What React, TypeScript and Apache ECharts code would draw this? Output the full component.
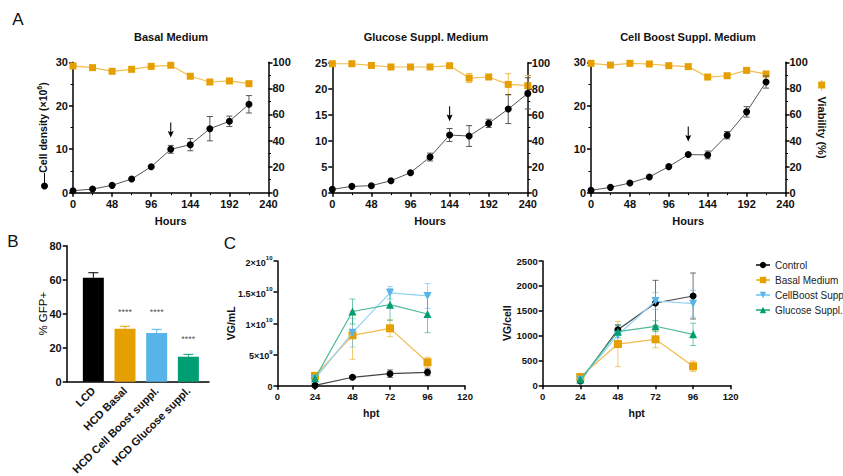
import React, { useEffect, useRef } from 'react';
import * as echarts from 'echarts';

const FONT = 'Arial, "Liberation Sans", Helvetica, sans-serif';

// ---------- Panel A data ----------
const hoursBasal = [0, 24, 48, 72, 96, 120, 144, 168, 192, 216];
const basalDensity = [0.46, 0.84, 1.69, 3.15, 5.99, 9.98, 11.05, 14.73, 16.42, 20.34];
const basalDensityErr = [0, 0, 0, 0, 0.2, 0.9, 1.4, 2.8, 1.2, 2.0];
const basalViability = [97.2, 95.9, 93.1, 94.6, 96.9, 97.7, 89.3, 84.9, 85.7, 83.6];
const basalViabilityErr = [0, 0, 0, 0, 0, 0, 0, 1.5, 1.0, 0];

const hoursGlucose = [0, 24, 48, 72, 96, 120, 144, 168, 192, 216, 240];
const glucoseDensity = [0.64, 1.22, 1.35, 2.31, 3.85, 6.86, 11.09, 10.9, 13.33, 16.09, 19.1];
const glucoseDensityErr = [0, 0, 0, 0, 0, 0.75, 1.25, 2.0, 0.8, 2.8, 3.0];
const glucoseViability = [99.2, 99.2, 97.9, 96.7, 96.7, 96.7, 97.7, 88.2, 89.0, 83.3, 82.3];
const glucoseViabilityErr = [0, 0, 0, 0, 0, 0, 0, 3.5, 0, 8.3, 8.0];

const hoursBoost = [0, 24, 48, 72, 96, 120, 144, 168, 192, 216];
const boostDensity = [0.54, 1.23, 2.23, 3.62, 6.0, 8.77, 8.69, 13.23, 18.6, 25.46];
const boostDensityErr = [0, 0, 0, 0, 0, 0, 0.9, 0.85, 1.2, 1.4];
const boostViability = [99.2, 97.9, 99.2, 98.7, 97.4, 96.7, 88.7, 89.7, 93.8, 91.0];
const boostViabilityErr = [0, 0, 0, 0, 0, 0, 0, 0, 0, 2.0];

const panelTitles = ['Basal Medium', 'Glucose Suppl. Medium', 'Cell Boost Suppl. Medium'];
const feedHour = [120, 144, 120];
const feedArrowLevel = [14.4, 15.2, 13.5];

// ---------- Panel B data ----------
const gfpCategories = ['LCD', 'HCD Basal', 'HCD Cell Boost suppl.', 'HCD Glucose suppl.'];
const gfpMean = [61.2, 31.2, 28.6, 14.7];
const gfpErr = [2.9, 1.4, 2.2, 1.4];
const gfpSignif = ['', '****', '****', '****'];
const gfpSignifLevel = [null, 41, 41, 25];

// ---------- Panel C data ----------
const hpt = [24, 48, 72, 96];
const cSeriesNames = ['Control', 'Basal Medium', 'CellBoost Suppl.', 'Glucose Suppl.'];
const vgmlControl = [0.05e9, 1.35e9, 1.93e9, 2.15e9];
const vgmlControlErr = [0.1e9, 0.2e9, 0.6e9, 0.55e9];
const vgmlBasal = [1.56e9, 8.08e9, 9.2e9, 3.75e9];
const vgmlBasalErr = [0.6e9, 3.85e9, 1.34e9, 0.8e9];
const vgmlBoost = [1.1e9, 8.5e9, 14.9e9, 14.4e9];
const vgmlBoostErr = [0.3e9, 2.3e9, 1.0e9, 2.0e9];
const vgmlGlucose = [1.18e9, 11.9e9, 13.0e9, 11.5e9];
const vgmlGlucoseErr = [0.3e9, 2.0e9, 2.5e9, 3.0e9];
const vgmlTickMantissa = ['0', '5', '1', '1.5', '2'];
const vgmlTickExp = ['', '9', '10', '10', '10'];

const vgcControl = [86, 1118, 1655, 1796];
const vgcControlErr = [10, 100, 456, 463];
const vgcBasal = [167, 830, 925, 382];
const vgcBasalErr = [40, 455, 170, 105];
const vgcBoost = [110, 1011, 1695, 1641];
const vgcBoostErr = [20, 200, 170, 270];
const vgcGlucose = [115, 1078, 1187, 1025];
const vgcGlucoseErr = [20, 120, 110, 225];

// ---------- styling ----------
const C_BLACK = '#000000';
const C_ORANGE = '#E69F00';
const C_BLUE = '#56B4E9';
const C_GREEN = '#009E73';
const cMarker = [C_BLACK, C_ORANGE, C_BLUE, C_GREEN];
const cLine = ['#444444', '#F2BC4E', '#94D2F4', '#4DBB96'];
const cErr = ['rgba(0,0,0,0.55)', 'rgba(230,159,0,0.55)', 'rgba(86,180,233,0.55)', 'rgba(0,158,115,0.55)'];
const cSymbols = ['circle', 'rect', 'path://M0,0 L10,0 L5,9 Z', 'triangle'];
const cSizes = [7, 8, 8, 8];

const axisLineStyle = { color: '#000', width: 1.5 };
const boldLabel = (size: number) => ({ fontSize: size, fontWeight: 'bold', color: '#111', fontFamily: FONT });

function errorBars(xAxisIndex: number, yAxisIndex: number, data: number[][], color: string, cap: number, z = 3) {
  return {
    type: 'custom',
    xAxisIndex,
    yAxisIndex,
    z,
    silent: true,
    data,
    encode: { x: 0, y: [1, 2] },
    renderItem: (params: any, api: any) => {
      const x = api.value(0);
      const a = api.coord([x, api.value(1)]);
      const b = api.coord([x, api.value(2)]);
      const st = { stroke: color, lineWidth: 1 };
      return {
        type: 'group',
        children: [
          { type: 'line', shape: { x1: a[0], y1: a[1], x2: b[0], y2: b[1] }, style: st },
          { type: 'line', shape: { x1: b[0] - cap, y1: b[1], x2: b[0] + cap, y2: b[1] }, style: st },
          { type: 'line', shape: { x1: a[0] - cap, y1: a[1], x2: a[0] + cap, y2: a[1] }, style: st },
        ],
      };
    },
  };
}

function errData(xs: number[], ys: number[], es: number[]) {
  const out: number[][] = [];
  xs.forEach((x, i) => {
    if (es[i] > 0) out.push([x, ys[i] - es[i], ys[i] + es[i]]);
  });
  return out;
}

function hoursAxis(gridIndex: number) {
  return {
    type: 'value', gridIndex, min: 0, max: 240, interval: 48,
    axisLine: { show: true, onZero: false, lineStyle: axisLineStyle },
    axisTick: { show: true, length: 4, lineStyle: axisLineStyle },
    minorTick: { show: true, splitNumber: 2, length: 2.5, lineStyle: { color: '#000', width: 1 } },
    axisLabel: { ...boldLabel(11), margin: 6 },
    splitLine: { show: false }, minorSplitLine: { show: false },
    name: 'Hours', nameLocation: 'middle', nameGap: 23,
    nameTextStyle: boldLabel(11),
  };
}

function densityAxis(gridIndex: number, max: number, interval: number, minor: boolean, extra: any = {}) {
  return {
    type: 'value', gridIndex, min: 0, max, interval, position: 'left',
    axisLine: { show: true, onZero: false, lineStyle: axisLineStyle },
    axisTick: { show: true, length: 4, lineStyle: axisLineStyle },
    minorTick: { show: minor, splitNumber: 2, length: 2.5, lineStyle: { color: '#000', width: 1 } },
    axisLabel: { ...boldLabel(11), margin: 5 },
    splitLine: { show: false }, minorSplitLine: { show: false },
    ...extra,
  };
}

function viabilityAxis(gridIndex: number, extra: any = {}) {
  return {
    type: 'value', gridIndex, min: 0, max: 100, interval: 20, position: 'right',
    axisLine: { show: true, onZero: false, lineStyle: axisLineStyle },
    axisTick: { show: true, length: 4, lineStyle: axisLineStyle },
    minorTick: { show: true, splitNumber: 2, length: 2.5, lineStyle: { color: '#000', width: 1 } },
    axisLabel: { ...boldLabel(11), margin: 4 },
    splitLine: { show: false }, minorSplitLine: { show: false },
    ...extra,
  };
}

function panelASeries(xi: number, yl: number, yr: number, hours: number[], dens: number[], densErr: number[], viab: number[], viabErr: number[], k: number) {
  return [
    errorBars(xi, yr, errData(hours, viab, viabErr), '#F2BC4E', 3, 3),
    {
      type: 'line', xAxisIndex: xi, yAxisIndex: yr, z: 4,
      data: hours.map((h, i) => [h, viab[i]]),
      symbol: 'rect', symbolSize: 7,
      itemStyle: { color: C_ORANGE },
      lineStyle: { color: '#F2BC4E', width: 1.2 },
    },
    errorBars(xi, yl, errData(hours, dens, densErr), '#555', 3, 5),
    {
      type: 'line', xAxisIndex: xi, yAxisIndex: yl, z: 6,
      data: hours.map((h, i) => [h, dens[i]]),
      symbol: 'circle', symbolSize: 7,
      itemStyle: { color: C_BLACK },
      lineStyle: { color: '#555', width: 1 },
      markPoint: {
        silent: true,
        symbol: 'path://M4.3,0 L5.7,0 L5.7,10 L9,9 L5,16 L1,9 L4.3,10 Z',
        symbolSize: [6, 15],
        itemStyle: { color: '#000' },
        label: { show: false },
        data: [{ coord: [feedHour[k], feedArrowLevel[k]] }],
      },
    },
  ];
}

function cXAxis(gridIndex: number) {
  return {
    type: 'value', gridIndex, min: 0, max: 120, interval: 24,
    axisLine: { show: true, onZero: false, lineStyle: axisLineStyle },
    axisTick: { show: true, length: 4, lineStyle: axisLineStyle },
    axisLabel: { ...boldLabel(9.5), margin: 6 },
    splitLine: { show: false },
    name: 'hpt', nameLocation: 'middle', nameGap: 22,
    nameTextStyle: boldLabel(10.5),
  };
}

function cSeries(xi: number, yi: number, sets: number[][], errs: number[][]) {
  const out: any[] = [];
  sets.forEach((vals, s) => {
    out.push(errorBars(xi, yi, errData(hpt, vals, errs[s]), cErr[s], 3, 3 + s));
  });
  sets.forEach((vals, s) => {
    out.push({
      type: 'line', name: cSeriesNames[s], xAxisIndex: xi, yAxisIndex: yi, z: 8 + s,
      data: hpt.map((h, i) => [h, vals[i]]),
      symbol: cSymbols[s], symbolSize: cSizes[s],
      itemStyle: { color: cMarker[s] },
      lineStyle: { color: cLine[s], width: 1.2 },
    });
  });
  return out;
}

function buildOption() {
  const grids = [
    { left: 73, top: 62.3, width: 195.5, height: 130.4 },
    { left: 332.3, top: 62.7, width: 195.5, height: 130 },
    { left: 591, top: 62.3, width: 194.5, height: 130.4 },
    { left: 66.7, top: 245.7, width: 142.3, height: 136 },
    { left: 77.5, top: 245.7, width: 126.7, height: 136 },
    { left: 277.5, top: 261, width: 187.5, height: 124.7 },
    { left: 542.7, top: 261, width: 188, height: 124.3 },
  ].map((g) => ({ ...g, outerBoundsMode: 'none', containLabel: false }));

  const xAxis: any[] = [
    hoursAxis(0),
    hoursAxis(1),
    hoursAxis(2),
    {
      type: 'value', gridIndex: 3, min: 0, max: 1,
      axisLine: { show: true, onZero: false, lineStyle: axisLineStyle },
      axisTick: { show: false }, axisLabel: { show: false }, splitLine: { show: false },
    },
    {
      type: 'category', gridIndex: 4, data: gfpCategories,
      axisLine: { show: false }, axisTick: { show: false },
      axisLabel: { ...boldLabel(11), rotate: 45, interval: 0, margin: 7 },
    },
    cXAxis(5),
    cXAxis(6),
  ];

  const yAxis: any[] = [
    densityAxis(0, 30, 10, true, {
      name: 'Cell density (×10{s|6})', nameLocation: 'middle', nameRotate: 90, nameGap: 23, nameMoveOverlap: false,
      nameTextStyle: { ...boldLabel(10.5), lineHeight: 14, rich: { s: { fontSize: 7, fontWeight: 'bold', fontFamily: FONT, color: '#111', verticalAlign: 'top', lineHeight: 14 } } },
    }),
    viabilityAxis(0),
    densityAxis(1, 25, 5, false),
    viabilityAxis(1),
    densityAxis(2, 30, 10, true),
    viabilityAxis(2, {
      name: 'Viability (%)', nameLocation: 'middle', nameRotate: -90, nameGap: 31, nameMoveOverlap: false,
      nameTextStyle: boldLabel(11),
    }),
    {
      type: 'value', gridIndex: 3, min: 0, max: 80, interval: 20,
      axisLine: { show: true, onZero: false, lineStyle: axisLineStyle },
      axisTick: { show: true, length: 4, lineStyle: axisLineStyle },
      axisLabel: { ...boldLabel(11), margin: 5 },
      splitLine: { show: false },
      name: '% GFP+', nameLocation: 'middle', nameRotate: 90, nameGap: 18, nameMoveOverlap: false,
      nameTextStyle: { fontSize: 11.5, color: '#000', fontFamily: FONT },
    },
    { type: 'value', gridIndex: 4, min: 0, max: 80, show: false },
    {
      type: 'value', gridIndex: 5, min: 0, max: 2e10, interval: 5e9,
      axisLine: { show: true, onZero: false, lineStyle: axisLineStyle },
      axisTick: { show: true, length: 4, lineStyle: axisLineStyle },
      axisLabel: {
        margin: 5,
        formatter: (v: number) => {
          const i = Math.round(v / 5e9);
          return vgmlTickExp[i] ? `{b|${vgmlTickMantissa[i]}×10}{s|${vgmlTickExp[i]}}` : `{b|${vgmlTickMantissa[i]}}`;
        },
        rich: {
          b: { ...boldLabel(9), lineHeight: 12, verticalAlign: 'bottom' },
          s: { ...boldLabel(6), lineHeight: 12, verticalAlign: 'top' },
        },
      },
      splitLine: { show: false },
      name: 'VG/mL', nameLocation: 'middle', nameRotate: 90, nameGap: 41, nameMoveOverlap: false,
      nameTextStyle: boldLabel(10.5),
    },
    {
      type: 'value', gridIndex: 6, min: 0, max: 2500, interval: 500,
      axisLine: { show: true, onZero: false, lineStyle: axisLineStyle },
      axisTick: { show: true, length: 4, lineStyle: axisLineStyle },
      axisLabel: { ...boldLabel(9.5), margin: 5, formatter: (v: number) => String(v) },
      splitLine: { show: false },
      name: 'VG/cell', nameLocation: 'middle', nameRotate: 90, nameGap: 30, nameMoveOverlap: false,
      nameTextStyle: boldLabel(10.5),
    },
  ];

  const series: any[] = [
    ...panelASeries(0, 0, 1, hoursBasal, basalDensity, basalDensityErr, basalViability, basalViabilityErr, 0),
    ...panelASeries(1, 2, 3, hoursGlucose, glucoseDensity, glucoseDensityErr, glucoseViability, glucoseViabilityErr, 1),
    ...panelASeries(2, 4, 5, hoursBoost, boostDensity, boostDensityErr, boostViability, boostViabilityErr, 2),
    {
      type: 'bar', xAxisIndex: 4, yAxisIndex: 7, barWidth: 21, z: 2,
      data: gfpMean.map((v, i) => ({ value: v, itemStyle: { color: cMarker[i] } })),
    },
    {
      type: 'custom', xAxisIndex: 4, yAxisIndex: 7, z: 3, silent: true,
      data: gfpMean.map((v, i) => [i, v, v + gfpErr[i]]),
      encode: { x: 0, y: [1, 2] },
      renderItem: (params: any, api: any) => {
        const i = api.value(0);
        const a = api.coord([i, api.value(1)]);
        const b = api.coord([i, api.value(2)]);
        const st = { stroke: cMarker[params.dataIndex], lineWidth: 1 };
        return {
          type: 'group', children: [
            { type: 'line', shape: { x1: a[0], y1: a[1], x2: b[0], y2: b[1] }, style: st },
            { type: 'line', shape: { x1: b[0] - 5, y1: b[1], x2: b[0] + 5, y2: b[1] }, style: st },
          ],
        };
      },
    },
    {
      type: 'scatter', xAxisIndex: 4, yAxisIndex: 7, z: 4, silent: true,
      symbolSize: 2, itemStyle: { color: 'rgba(0,0,0,0)' },
      data: gfpSignifLevel.map((v, i) => [i, v == null ? 0 : v]).filter((d, i) => gfpSignifLevel[i] != null),
      label: {
        show: true, position: 'inside', fontSize: 9, color: '#222', fontFamily: FONT,
        formatter: (p: any) => gfpSignif[p.value[0]],
      },
    },
    ...cSeries(5, 8, [vgmlControl, vgmlBasal, vgmlBoost, vgmlGlucose], [vgmlControlErr, vgmlBasalErr, vgmlBoostErr, vgmlGlucoseErr]),
    ...cSeries(6, 9, [vgcControl, vgcBasal, vgcBoost, vgcGlucose], [vgcControlErr, vgcBasalErr, vgcBoostErr, vgcGlucoseErr]),
  ];

  const titleCenters = [171, 426, 688];
  const title = panelTitles.map((t, i) => ({
    text: t, left: titleCenters[i], top: 31, textAlign: 'center', padding: 0,
    textStyle: { fontSize: 11, fontWeight: 'bold', color: '#111', fontFamily: FONT },
  }));

  const letter = (t: string, x: number, y: number) => ({
    type: 'text', x, y, style: { text: t, fontSize: 17, fill: '#111', fontFamily: FONT, textAlign: 'center', textVerticalAlign: 'middle' },
  });

  return {
    animation: false,
    backgroundColor: '#ffffff',
    title,
    grid: grids,
    xAxis,
    yAxis,
    series,
    legend: {
      data: cSeriesNames,
      orient: 'vertical', left: 750, top: 255,
      itemWidth: 14, itemHeight: 8, itemGap: 5,
      textStyle: { fontSize: 10, color: '#222', fontFamily: FONT },
      selectedMode: false,
    },
    graphic: [
      letter('A', 18, 19),
      letter('B', 13, 241),
      letter('C', 230, 243),
      { type: 'line', shape: { x1: 44.5, y1: 173, x2: 44.5, y2: 186 }, style: { stroke: '#000', lineWidth: 1 } },
      { type: 'circle', shape: { cx: 44.5, cy: 186, r: 3.5 }, style: { fill: '#000' } },
      { type: 'line', shape: { x1: 821.7, y1: 80, x2: 821.7, y2: 91 }, style: { stroke: '#F2BC4E', lineWidth: 1 } },
      { type: 'rect', shape: { x: 818.2, y: 81.5, width: 7, height: 7 }, style: { fill: C_ORANGE } },
    ],
  };
}

export default function App() {
  const ref = useRef<HTMLDivElement>(null);
  useEffect(() => {
    if (!ref.current) return;
    const chart = echarts.init(ref.current, undefined, { renderer: 'svg' });
    chart.setOption(buildOption() as any);
    return () => chart.dispose();
  }, []);
  return <div ref={ref} style={{ position: 'fixed', left: 0, top: 0, width: 843, height: 476 }} />;
}
